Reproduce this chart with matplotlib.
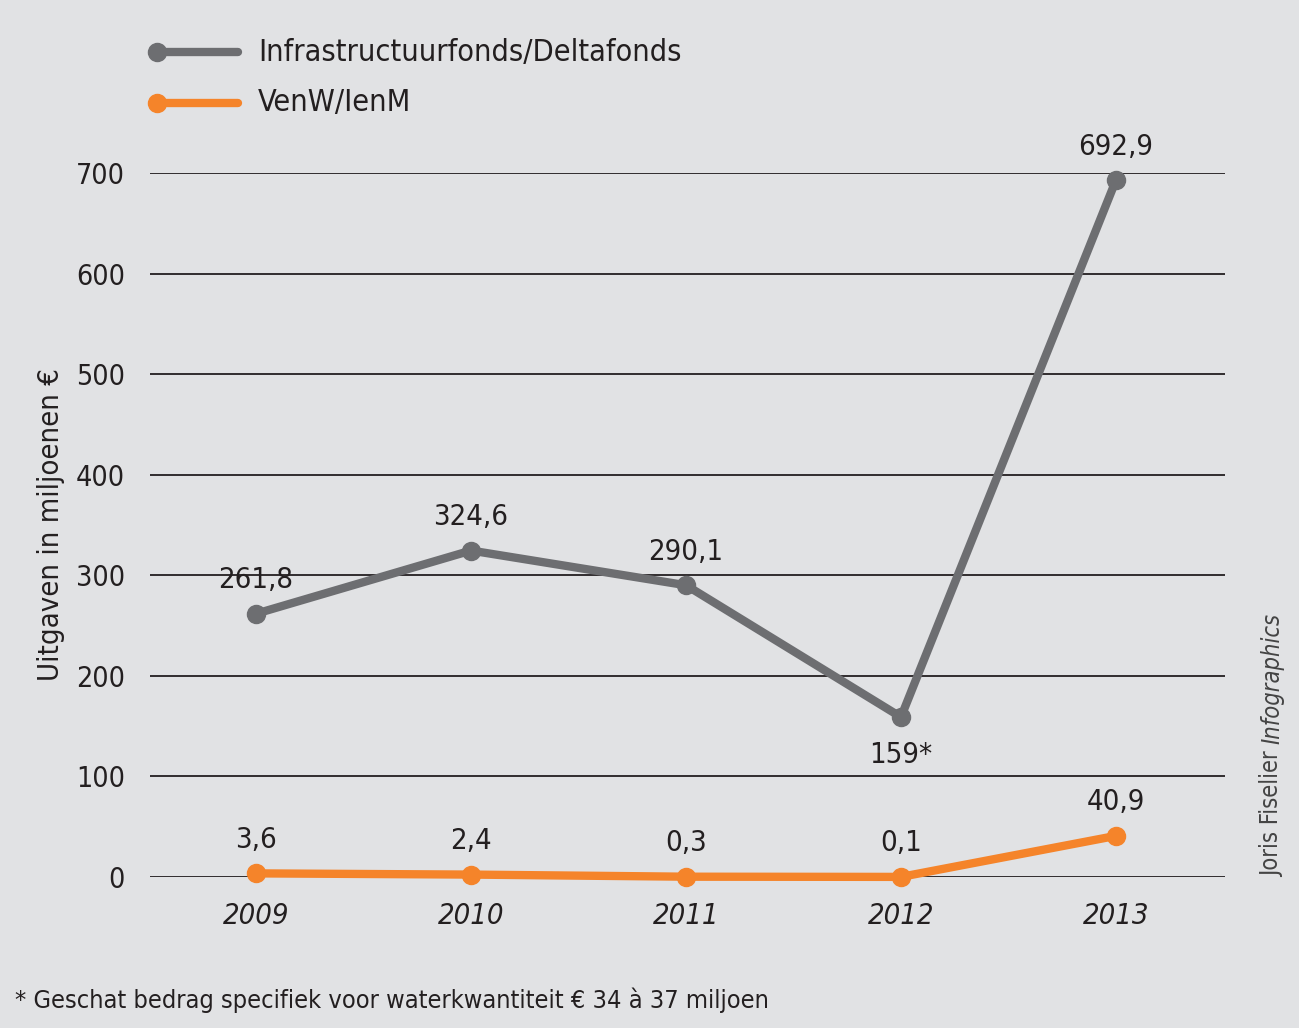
import matplotlib.pyplot as plt
from matplotlib.lines import Line2D
from matplotlib import font_manager

condensed = [f.name for f in font_manager.fontManager.ttflist
             if 'Narrow' in f.name or 'Condensed' in f.name or f.stretch == 'condensed']
fam = condensed[0] if condensed else 'DejaVu Sans'
plt.rcParams['font.family'] = [fam, 'DejaVu Sans']
plt.rcParams['font.stretch'] = 'condensed'

years = ['2009', '2010', '2011', '2012', '2013']
infra = [261.8, 324.6, 290.1, 159, 692.9]
venw = [3.6, 2.4, 0.3, 0.1, 40.9]
infra_labels = ['261,8', '324,6', '290,1', '159*', '692,9']
venw_labels = ['3,6', '2,4', '0,3', '0,1', '40,9']

bg = '#e1e2e4'
grey = '#6d6e71'
orange = '#f5842a'
ink = '#231f20'

fig = plt.figure(figsize=(12.99, 10.28), dpi=100, facecolor=bg)
ax = fig.add_axes([150/1299, 1-877/1028, 1075/1299, 704/1028], facecolor=bg)

x = list(range(len(years)))
ax.plot(x, infra, color=grey, lw=6, marker='o', ms=13, clip_on=False, zorder=3)
ax.plot(x, venw, color=orange, lw=6, marker='o', ms=13, clip_on=False, zorder=3)

for i, (v, s) in enumerate(zip(infra, infra_labels)):
    if i == 3:
        ax.annotate(s, (i, v), xytext=(0, -17), textcoords='offset points',
                    ha='center', va='top', fontsize=21, color=ink)
    else:
        ax.annotate(s, (i, v), xytext=(0, 14), textcoords='offset points',
                    ha='center', va='bottom', fontsize=21, color=ink)
for i, (v, s) in enumerate(zip(venw, venw_labels)):
    ax.annotate(s, (i, v), xytext=(0, 14), textcoords='offset points',
                ha='center', va='bottom', fontsize=21, color=ink)

ax.set_xlim(-0.493, 4.507)
ax.set_ylim(0, 700)
ax.set_yticks(range(0, 701, 100))
ax.set_xticks(x)
ax.set_xticklabels(years, fontsize=21, style='italic', color=ink)
ax.tick_params(axis='y', labelsize=20.5, colors=ink, length=0, pad=18)
ax.tick_params(axis='x', length=0, pad=18)
ax.grid(axis='y', color=ink, lw=1.3)
ax.set_axisbelow(True)
for sp in ax.spines.values():
    sp.set_visible(False)
ax.set_ylabel('Uitgaven in miljoenen €', fontsize=21, color=ink, labelpad=8)

# legend
for yy, c, lab in [(52, grey, 'Infrastructuurfonds/Deltafonds'), (103, orange, 'VenW/IenM')]:
    yf = 1 - yy/1028
    fig.add_artist(Line2D([157/1299, 238/1299], [yf, yf], color=c, lw=6,
                          solid_capstyle='round'))
    fig.add_artist(Line2D([157/1299], [yf], color=c, marker='o', ms=13, lw=0))
    fig.text(258/1299, yf, lab, fontsize=22, color=ink, va='center', ha='left')

fig.text(15/1299, 1-1000/1028, '* Geschat bedrag specifiek voor waterkwantiteit € 34 à 37 miljoen',
         fontsize=18.2, color=ink, va='center', ha='left')
fig.text(1272/1299, 1-877/1028, 'Joris Fiselier', fontsize=17, color='#444444',
         rotation=90, va='bottom', ha='center')
fig.text(1272/1299, 1-744/1028, 'Infographics', fontsize=17, color='#444444',
         rotation=90, va='bottom', ha='center', style='italic')
fig.savefig('out.png', dpi=100, facecolor=bg)
